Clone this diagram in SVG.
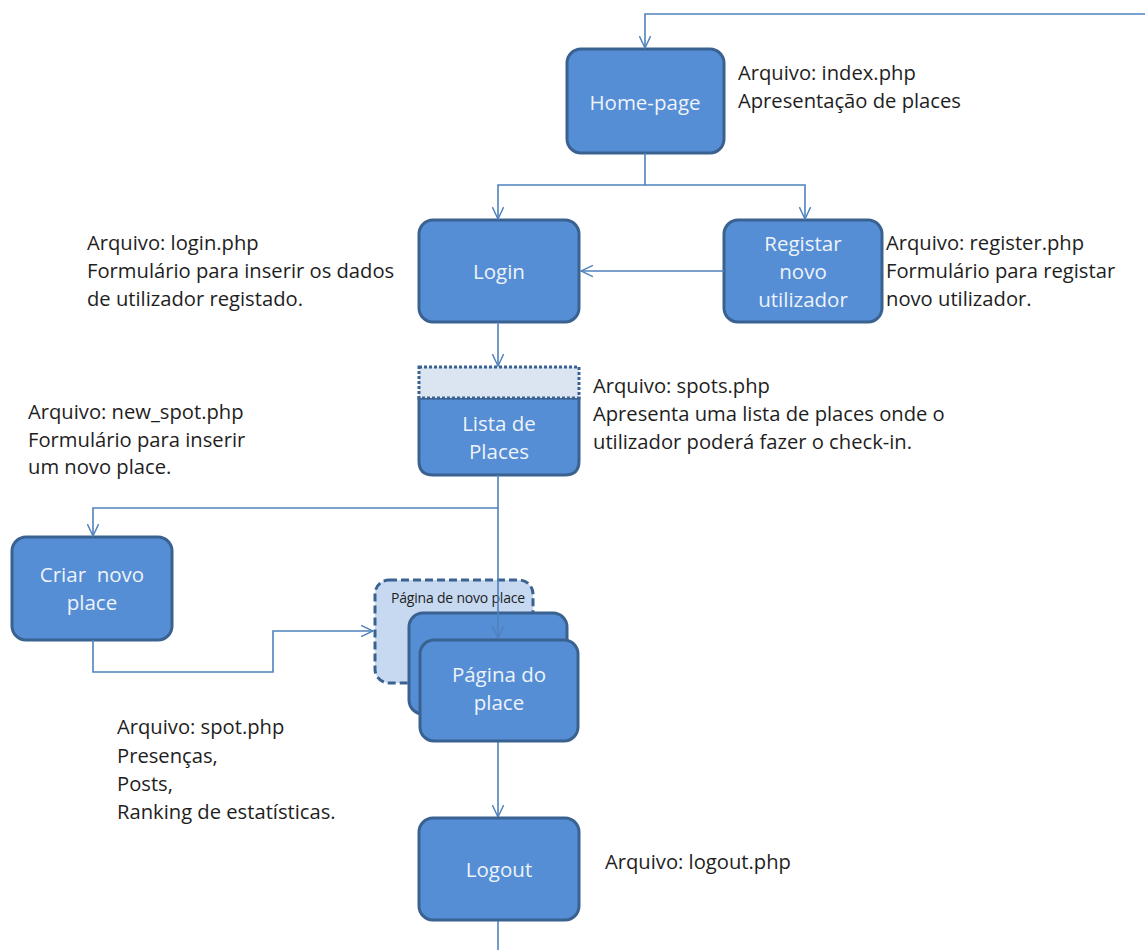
<svg xmlns="http://www.w3.org/2000/svg" width="1145" height="950" viewBox="0 0 1145 950">
  <defs>
    <marker id="arrow" viewBox="0 0 20 20" refX="19" refY="10" markerWidth="14" markerHeight="14" markerUnits="userSpaceOnUse" orient="auto">
      <path d="M2,2 L19,10 L2,18" fill="none" stroke="#4f81bd" stroke-width="2"/>
    </marker>
    <style>
      .box { fill: #558ed5; stroke: #3a6291; stroke-width: 3; }
      .ghost { fill: #c6d9f1; stroke: #3a6291; stroke-width: 3; stroke-dasharray: 8 4; }
      .lbl { font-family: "Open Sans", "Liberation Sans", Arial, sans-serif; font-size: 20.5px; fill: #eef3fa; text-anchor: middle; dominant-baseline: central; }
      .note { font-family: "Open Sans", "Liberation Sans", Arial, sans-serif; font-size: 20.2px; fill: #1e1e1e; }
      .small { font-family: "Open Sans", "Liberation Sans", Arial, sans-serif; font-size: 14px; letter-spacing: -0.2px; fill: #1e1e1e; text-anchor: middle; }
      .wire { fill: none; stroke: #4f81bd; stroke-width: 1.6; }
    </style>
  </defs>
  <rect width="1145" height="950" fill="#ffffff"/>

  <g id="home">
    <rect class="box" x="567" y="49" width="157" height="104" rx="14"/>
    <text class="lbl" x="645" y="102">Home-page</text>
  </g>

  <g id="login">
    <rect class="box" x="419" y="220" width="160" height="102" rx="14"/>
    <text class="lbl" x="499" y="271">Login</text>
  </g>

  <g id="register">
    <rect class="box" x="724" y="220" width="158" height="102" rx="14"/>
    <text class="lbl" x="803" y="243">Registar</text>
    <text class="lbl" x="803" y="271">novo</text>
    <text class="lbl" x="803" y="299">utilizador</text>
  </g>

  <g id="lista">
    <path class="box" d="M419,398 H579 V461 Q579,475 565,475 H433 Q419,475 419,461 Z"/>
    <rect x="419" y="367" width="160" height="31" fill="#dbe5f1" stroke="#3a6291" stroke-width="3" stroke-dasharray="3 2"/>
    <text class="lbl" x="499" y="423">Lista de</text>
    <text class="lbl" x="499" y="451">Places</text>
  </g>

  <g id="criar">
    <rect class="box" x="12" y="537" width="160" height="103" rx="14"/>
    <text class="lbl" x="92" y="574" xml:space="preserve">Criar  novo</text>
    <text class="lbl" x="92" y="602">place</text>
  </g>

  <g id="novo-place">
    <rect class="ghost" x="375" y="580" width="158" height="103" rx="14"/>
    <text class="small" x="458" y="603">Página de novo place</text>
  </g>

  <g id="pagina-back">
    <rect class="box" x="409" y="613" width="158" height="101" rx="14"/>
  </g>

  <g id="connectors">
    <path class="wire" d="M1145,14 H645 V48" marker-end="url(#arrow)"/>
    <path class="wire" d="M645,153 V185 H498 V219" marker-end="url(#arrow)"/>
    <path class="wire" d="M645,185 H805 V219" marker-end="url(#arrow)"/>
    <path class="wire" d="M724,271 H581" marker-end="url(#arrow)"/>
    <path class="wire" d="M498,322 V366" marker-end="url(#arrow)"/>
    <path class="wire" d="M498,475 V508 H93 V536" marker-end="url(#arrow)"/>
    <path class="wire" d="M498,508 V638" marker-end="url(#arrow)"/>
    <path class="wire" d="M93,640 V672 H273 V631 H373" marker-end="url(#arrow)"/>
    <path class="wire" d="M498,741 V817" marker-end="url(#arrow)"/>
    <path class="wire" d="M498,920 V950"/>
  </g>

  <g id="pagina">
    <rect class="box" x="420" y="640" width="158" height="101" rx="14"/>
    <text class="lbl" x="499" y="674">Página do</text>
    <text class="lbl" x="499" y="702">place</text>
  </g>

  <g id="logout">
    <rect class="box" x="419" y="818" width="160" height="102" rx="14"/>
    <text class="lbl" x="499" y="869">Logout</text>
  </g>

  <g id="notes">
    <text class="note" x="738" y="80">Arquivo: index.php</text>
    <text class="note" x="738" y="108">Apresentação de places</text>

    <text class="note" x="87" y="250">Arquivo: login.php</text>
    <text class="note" x="87" y="278">Formulário para inserir os dados</text>
    <text class="note" x="87" y="306">de utilizador registado.</text>

    <text class="note" x="886" y="250">Arquivo: register.php</text>
    <text class="note" x="886" y="278">Formulário para registar</text>
    <text class="note" x="886" y="306">novo utilizador.</text>

    <text class="note" x="593" y="393">Arquivo: spots.php</text>
    <text class="note" x="593" y="421">Apresenta uma lista de places onde o</text>
    <text class="note" x="593" y="449">utilizador poderá fazer o check-in.</text>

    <text class="note" x="28" y="419">Arquivo: new_spot.php</text>
    <text class="note" x="28" y="447">Formulário para inserir</text>
    <text class="note" x="28" y="474">um novo place.</text>

    <text class="note" x="117" y="734">Arquivo: spot.php</text>
    <text class="note" x="117" y="763">Presenças,</text>
    <text class="note" x="117" y="791">Posts,</text>
    <text class="note" x="117" y="819">Ranking de estatísticas.</text>

    <text class="note" x="605" y="869">Arquivo: logout.php</text>
  </g>
</svg>
